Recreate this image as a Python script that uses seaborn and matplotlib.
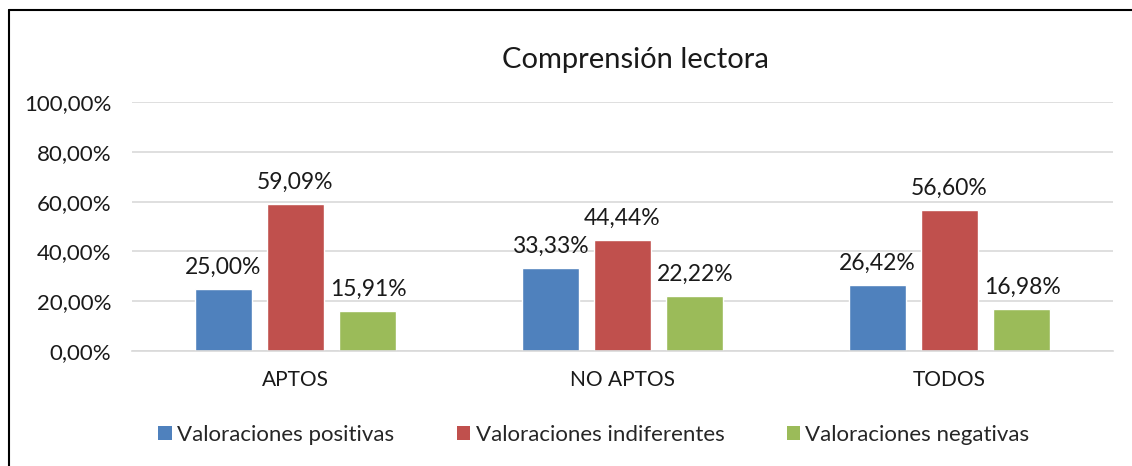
import pandas as pd
import seaborn as sns
import matplotlib.pyplot as plt
from matplotlib.lines import Line2D
from matplotlib.patches import Patch
from matplotlib.ticker import FuncFormatter

# Step 1: Chart values
groups = ["APTOS", "NO APTOS", "TODOS"]
series = ["Valoraciones positivas", "Valoraciones indiferentes", "Valoraciones negativas"]
positivas = [0.2500, 0.3333, 0.2642]
indiferentes = [0.5909, 0.4444, 0.5660]
negativas = [0.1591, 0.2222, 0.1698]
colors = ["#4F81BD", "#C0504D", "#9BBB59"]
y_ticks = [0.0, 0.2, 0.4, 0.6, 0.8, 1.0]

# Build a long table for seaborn
rows = []
for name, values in zip(series, [positivas, indiferentes, negativas]):
    for g, v in zip(groups, values):
        rows.append({"Grupo": g, "Serie": name, "Valor": v})
df = pd.DataFrame(rows)


def pct(v, pos=None):
    return f"{v * 100:.2f}%".replace(".", ",")


# Step 2: Style
sns.set_style("white")
plt.rcParams["font.family"] = ["Lato", "DejaVu Sans"]
fs = 16

fig = plt.figure(figsize=(11.32, 4.66), dpi=100)
ax = fig.add_axes([132 / 1132, 1 - 351 / 466, (1113 - 132) / 1132, (351 - 102) / 466])

sns.barplot(
    data=df, x="Grupo", y="Valor", hue="Serie", hue_order=series,
    palette=colors, width=0.665, gap=0.214, saturation=1, legend=False, ax=ax,
)

# Step 3: Data labels above each bar
for container, values in zip(ax.containers, [positivas, indiferentes, negativas]):
    ax.bar_label(container, labels=[pct(v) for v in values], padding=8, fontsize=16.5, color="#1a1a1a")

# Step 4: Axes
ax.set_xlim(-0.5, 2.5)
ax.set_ylim(0, 1.0)
ax.set_yticks(y_ticks)
ax.yaxis.set_major_formatter(FuncFormatter(pct))
ax.grid(axis="y", color="#D9D9D9", linewidth=1.2)
ax.set_axisbelow(True)
for side in ["top", "right", "left"]:
    ax.spines[side].set_visible(False)
ax.spines["bottom"].set_color("#D9D9D9")
ax.spines["bottom"].set_linewidth(1.2)
ax.tick_params(axis="y", length=0, pad=15, labelsize=fs, labelcolor="#1a1a1a")
ax.tick_params(axis="x", length=0, pad=14, labelsize=15, labelcolor="#1a1a1a")
ax.set_xlabel("")
ax.set_ylabel("")

# Title
fig.text(635 / 1132, 1 - 60 / 466, "Comprensión lectora", ha="center", va="center", fontsize=21, color="#1a1a1a")

# Legend
handles = [Patch(facecolor=c, edgecolor="none") for c in colors]
fig.legend(
    handles, series, loc="center", bbox_to_anchor=(594 / 1132, 1 - 435 / 466), ncol=3,
    frameon=False, fontsize=fs, handlelength=0.6, handleheight=0.6,
    handletextpad=0.25, columnspacing=2.8,
)

# Border of the chart (left and top only visible)
fig.add_artist(Line2D([9 / 1132, 9 / 1132], [0, 1 - 10 / 466], color="black", linewidth=1.5))
fig.add_artist(Line2D([9 / 1132, 1], [1 - 10 / 466, 1 - 10 / 466], color="black", linewidth=1.5))

plt.savefig("out.png", dpi=100)
